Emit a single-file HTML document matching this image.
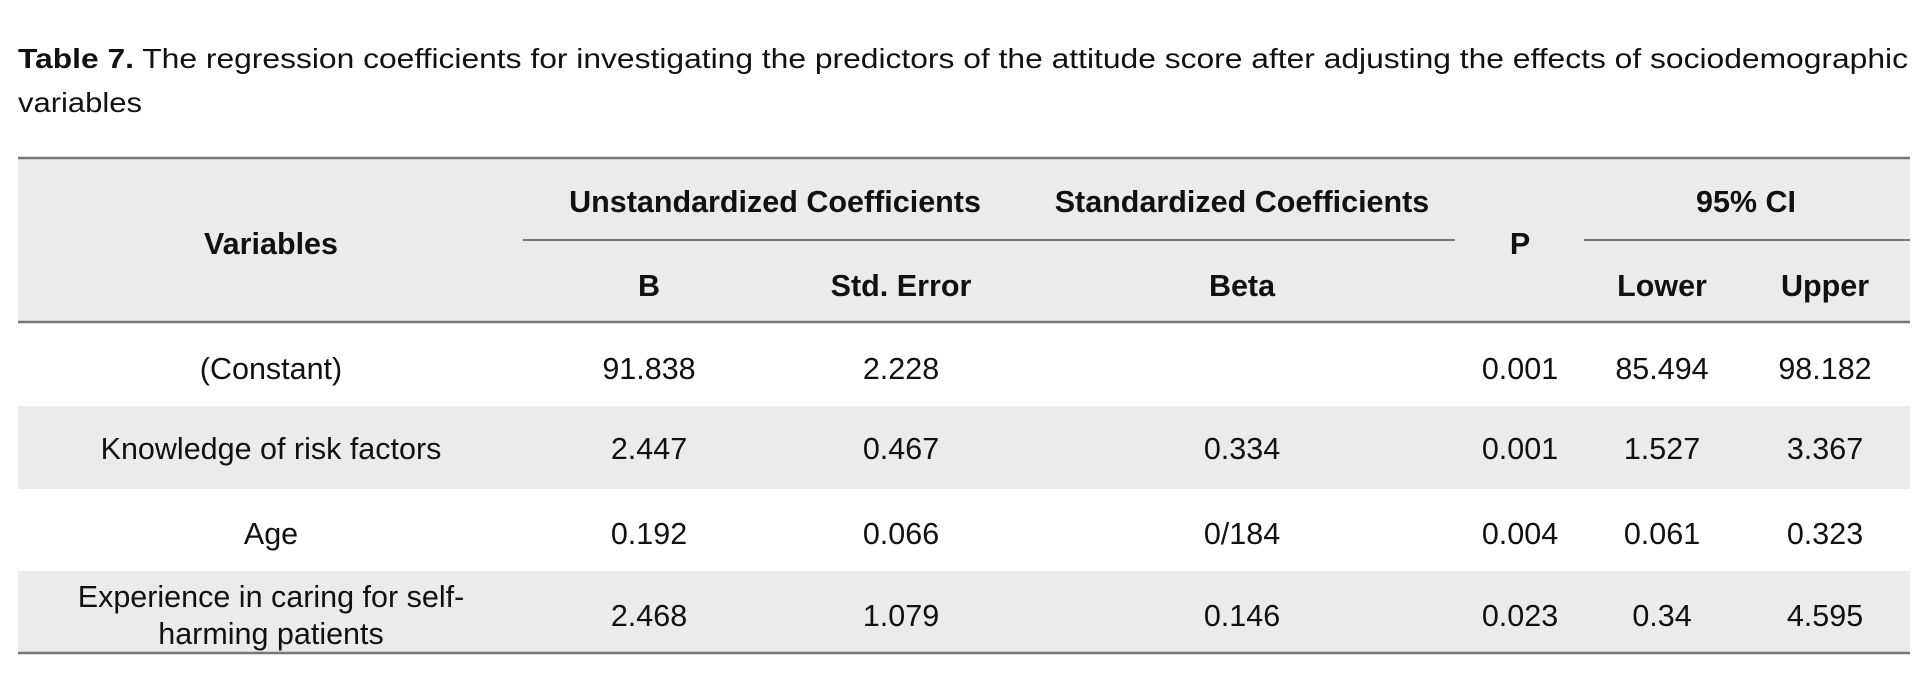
<!DOCTYPE html>
<html><head><meta charset="utf-8"><style>
html,body{margin:0;padding:0;background:#fff;}
svg{display:block;}
text{font-family:"Liberation Sans",sans-serif;fill:#111;}
.h{font-weight:bold;font-size:30.5px;}
.d{font-size:30.5px;}
</style></head><body>
<svg width="1928" height="674" viewBox="0 0 1928 674" xmlns="http://www.w3.org/2000/svg">
<text x="18" y="68" font-size="28" textLength="1890" lengthAdjust="spacingAndGlyphs"><tspan font-weight="bold">Table 7.</tspan> The regression coefficients for investigating the predictors of the attitude score after adjusting the effects of sociodemographic</text>
<text x="18" y="112" font-size="28" textLength="124" lengthAdjust="spacingAndGlyphs">variables</text>

<rect x="18" y="158" width="1892" height="164" fill="#ebebeb"/>
<rect x="18" y="406" width="1892" height="83" fill="#ebebeb"/>
<rect x="18" y="571" width="1892" height="82" fill="#ebebeb"/>
<line x1="18" y1="158" x2="1910" y2="158" stroke="#777" stroke-width="2.5"/>
<line x1="523" y1="240" x2="1455" y2="240" stroke="#777" stroke-width="2"/>
<line x1="1584" y1="240" x2="1910" y2="240" stroke="#777" stroke-width="2"/>
<line x1="18" y1="322" x2="1910" y2="322" stroke="#777" stroke-width="2.5"/>
<line x1="18" y1="653" x2="1910" y2="653" stroke="#777" stroke-width="2.5"/>

<g text-anchor="middle">
<text class="h" x="271" y="254">Variables</text>
<text class="h" x="775" y="212">Unstandardized Coefficients</text>
<text class="h" x="1242" y="212">Standardized Coefficients</text>
<text class="h" x="1746" y="212">95% CI</text>
<text class="h" x="1520" y="254">P</text>
<text class="h" x="649" y="296">B</text>
<text class="h" x="901" y="296">Std. Error</text>
<text class="h" x="1242" y="296">Beta</text>
<text class="h" x="1662" y="296">Lower</text>
<text class="h" x="1825" y="296">Upper</text>
</g>

<g text-anchor="middle">
<text class="d" x="271" y="379">(Constant)</text>
<text class="d" x="649" y="379">91.838</text>
<text class="d" x="901" y="379">2.228</text>
<text class="d" x="1520" y="379">0.001</text>
<text class="d" x="1662" y="379">85.494</text>
<text class="d" x="1825" y="379">98.182</text>

<text class="d" x="271" y="459">Knowledge of risk factors</text>
<text class="d" x="649" y="459">2.447</text>
<text class="d" x="901" y="459">0.467</text>
<text class="d" x="1242" y="459">0.334</text>
<text class="d" x="1520" y="459">0.001</text>
<text class="d" x="1662" y="459">1.527</text>
<text class="d" x="1825" y="459">3.367</text>

<text class="d" x="271" y="544">Age</text>
<text class="d" x="649" y="544">0.192</text>
<text class="d" x="901" y="544">0.066</text>
<text class="d" x="1242" y="544">0/184</text>
<text class="d" x="1520" y="544">0.004</text>
<text class="d" x="1662" y="544">0.061</text>
<text class="d" x="1825" y="544">0.323</text>

<text class="d" x="271" y="607">Experience in caring for self-</text>
<text class="d" x="271" y="644">harming patients</text>
<text class="d" x="649" y="626">2.468</text>
<text class="d" x="901" y="626">1.079</text>
<text class="d" x="1242" y="626">0.146</text>
<text class="d" x="1520" y="626">0.023</text>
<text class="d" x="1662" y="626">0.34</text>
<text class="d" x="1825" y="626">4.595</text>
</g>
</svg>
</body></html>
